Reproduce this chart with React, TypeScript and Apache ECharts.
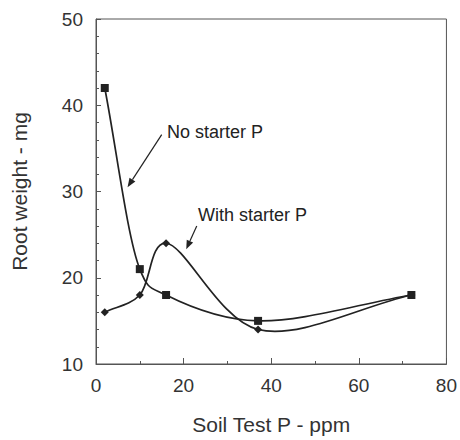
import React, { useEffect, useRef } from "react";
import * as echarts from "echarts";

const noStarterX = [2, 10, 16, 37, 72];
const noStarterY = [42, 21, 18, 15, 18];
const withStarterX = [2, 10, 16, 37, 72];
const withStarterY = [16, 18, 24, 14, 18];
const xTicks = [0, 20, 40, 60, 80];
const yTicks = [10, 20, 30, 40, 50];

// annotations in data coordinates: label anchor, arrow start, arrow end
const annotations = [
  { text: "No starter P", at: [16.2, 36.9], from: [15.0, 36.6], to: [7.2, 30.5] },
  { text: "With starter P", at: [23.3, 27.3], from: [23.0, 26.0], to: [20.6, 23.3] },
];

const FONT = "Liberation Sans, Arial, Helvetica, sans-serif";
const INK = "#222";

// Catmull-Rom segment (alpha-parameterised) -> cubic Bezier, in pixel space
function segmentBezier(pts: number[][], i: number) {
  const n = pts.length;
  const p1 = pts[i];
  const p2 = pts[i + 1];
  const p0 = i > 0 ? pts[i - 1] : [2 * p1[0] - p2[0], 2 * p1[1] - p2[1]];
  const p3 = i + 2 < n ? pts[i + 2] : [2 * p2[0] - p1[0], 2 * p2[1] - p1[1]];
  const alpha = 0.25;
  const dist = (a: number[], b: number[]) => Math.hypot(a[0] - b[0], a[1] - b[1]);
  const d1 = Math.pow(dist(p0, p1), alpha);
  const d2 = Math.pow(dist(p1, p2), alpha);
  const d3 = Math.pow(dist(p2, p3), alpha);
  const b1 = [0, 1].map(
    (k) =>
      (d1 * d1 * p2[k] - d2 * d2 * p0[k] + (2 * d1 * d1 + 3 * d1 * d2 + d2 * d2) * p1[k]) /
      (3 * d1 * (d1 + d2))
  );
  const b2 = [0, 1].map(
    (k) =>
      (d3 * d3 * p1[k] - d2 * d2 * p3[k] + (2 * d3 * d3 + 3 * d3 * d2 + d2 * d2) * p2[k]) /
      (3 * d3 * (d3 + d2))
  );
  return { x1: p1[0], y1: p1[1], cpx1: b1[0], cpy1: b1[1], cpx2: b2[0], cpy2: b2[1], x2: p2[0], y2: p2[1] };
}

function curveSeries(name: string, xs: number[], ys: number[]) {
  const data = xs.map((x, i) => [x, ys[i]]);
  return {
    name,
    type: "custom",
    data,
    encode: { x: 0, y: 1 },
    z: 2,
    renderItem: (params: any, api: any) => {
      const i = params.dataIndex;
      if (i >= data.length - 1) return { type: "group", children: [] };
      const pts = data.map((d) => api.coord(d));
      return {
        type: "bezierCurve",
        shape: segmentBezier(pts, i),
        style: { stroke: INK, lineWidth: 1.7, fill: "none" },
      };
    },
  };
}

export default function App() {
  const ref = useRef<HTMLDivElement>(null);
  useEffect(() => {
    if (!ref.current) return;
    const chart = echarts.init(ref.current, undefined, { renderer: "svg" });
    const zip = (xs: number[], ys: number[]) => xs.map((x, i) => [x, ys[i]]);
    chart.setOption({
      animation: false,
      backgroundColor: "#fff",
      grid: {
        left: 96,
        right: 13,
        top: 19,
        bottom: 69,
        show: true,
        borderColor: "#555",
        borderWidth: 1,
      },
      xAxis: {
        type: "value",
        min: xTicks[0],
        max: xTicks[xTicks.length - 1],
        interval: 20,
        name: "Soil Test P - ppm",
        nameLocation: "middle",
        nameGap: 50,
        nameTextStyle: { fontFamily: FONT, fontSize: 21, color: "#333" },
        axisLine: { lineStyle: { color: "#555", width: 1 } },
        axisTick: { inside: true, length: 6, lineStyle: { color: "#555" } },
        minorTick: { show: true, splitNumber: 2, length: 3, lineStyle: { color: "#555" } },
        splitLine: { show: false },
        axisLabel: { fontFamily: FONT, fontSize: 19, color: "#333", margin: 12 },
      },
      yAxis: {
        type: "value",
        min: yTicks[0],
        max: yTicks[yTicks.length - 1],
        interval: 10,
        name: "Root weight - mg",
        nameLocation: "middle",
        nameGap: 66,
        nameTextStyle: { fontFamily: FONT, fontSize: 21, color: "#333" },
        axisLine: { lineStyle: { color: "#555", width: 1 } },
        axisTick: { inside: true, length: 5, lineStyle: { color: "#555" } },
        minorTick: { show: true, splitNumber: 5, length: 3, lineStyle: { color: "#555" } },
        splitLine: { show: false },
        axisLabel: { fontFamily: FONT, fontSize: 19, color: "#333", margin: 13 },
      },
      series: [
        curveSeries("No starter P curve", noStarterX, noStarterY),
        curveSeries("With starter P curve", withStarterX, withStarterY),
        {
          name: "No starter P",
          type: "scatter",
          data: zip(noStarterX, noStarterY),
          symbol: "rect",
          symbolSize: 8,
          itemStyle: { color: INK, opacity: 1 },
          z: 3,
        },
        {
          name: "With starter P",
          type: "scatter",
          data: zip(withStarterX, withStarterY),
          symbol: "diamond",
          symbolSize: [8, 8],
          itemStyle: { color: INK, opacity: 1 },
          z: 3,
        },
      ],
    });

    const graphics: any[] = [];
    annotations.forEach((a) => {
      const p = chart.convertToPixel({ gridIndex: 0 }, a.at) as number[];
      const f = chart.convertToPixel({ gridIndex: 0 }, a.from) as number[];
      const t = chart.convertToPixel({ gridIndex: 0 }, a.to) as number[];
      graphics.push({
        type: "text",
        x: p[0],
        y: p[1],
        style: {
          text: a.text,
          fontFamily: FONT,
          fontSize: 18,
          fill: "#222",
          textAlign: "left",
          textVerticalAlign: "middle",
        },
        z: 10,
      });
      const dx = t[0] - f[0];
      const dy = t[1] - f[1];
      const len = Math.sqrt(dx * dx + dy * dy);
      const ux = dx / len;
      const uy = dy / len;
      const headLen = 9;
      const headW = 3.5;
      const bx = t[0] - ux * headLen;
      const by = t[1] - uy * headLen;
      graphics.push({
        type: "line",
        shape: { x1: f[0], y1: f[1], x2: bx, y2: by },
        style: { stroke: "#222", lineWidth: 1.2 },
        z: 10,
      });
      graphics.push({
        type: "polygon",
        shape: {
          points: [
            [t[0], t[1]],
            [bx - uy * headW, by + ux * headW],
            [bx + uy * headW, by - ux * headW],
          ],
        },
        style: { fill: "#222" },
        z: 10,
      });
    });
    chart.setOption({ graphic: graphics });

    return () => chart.dispose();
  }, []);
  return <div ref={ref} style={{ width: 460, height: 440, position: "absolute", left: 0, top: 0 }} />;
}
